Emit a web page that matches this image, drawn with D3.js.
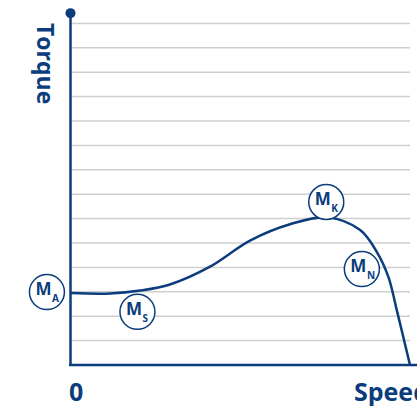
<!DOCTYPE html>
<html>
<head>
<meta charset="utf-8">
<script src="https://cdn.jsdelivr.net/npm/d3@7"></script>
<style>
  html, body { margin: 0; padding: 0; background: #fff; }
  svg { display: block; }
</style>
</head>
<body>
<svg id="chart" width="417" height="406"></svg>
<script>
// DATA: speed in % of synchronous, torque in grid units
var speed  = [0, 11.5, 20.4, 29.2, 41.0, 52.8, 64.6, 75.8, 85.3, 90.2, 93.6, 96.1, 100];
var torque = [2.95, 2.93, 3.05, 3.30, 4.03, 5.10, 5.77, 6.05, 5.53, 4.64, 3.62, 2.25, 0];
var gridValues = [1, 2, 3, 4, 5, 6, 7, 8, 9, 10, 11, 12, 13, 14];
var labelNames = ["A", "S", "K", "N"];
var labelSpeed = [-7.1, 19.6, 75.3, 85.8];
var labelTorque = [2.99, 2.18, 6.68, 3.93];

var BLUE = "#0b3d7c";
var FONT = "'Open Sans', sans-serif";
var svg = d3.select("#chart");

// SCALES
var x = d3.scaleLinear().domain([0, 100]).range([71, 410]);
var y = d3.scaleLinear().domain([0, 14]).range([365, 23.4]);

// GRID LINES
svg.append("g").selectAll("line.grid")
    .data(gridValues)
    .enter().append("line")
    .attr("x1", x(0)).attr("x2", x(100))
    .attr("y1", function(d) { return y(d); })
    .attr("y2", function(d) { return y(d); })
    .style("stroke", "#cfcfcf")
    .style("stroke-width", 1.5);

// AXES
svg.append("line")
    .attr("x1", 70.5).attr("x2", 70.5)
    .attr("y1", y(14.42)).attr("y2", y(0) + 1)
    .style("stroke", BLUE).style("stroke-width", 2.5);
svg.append("line")
    .attr("x1", 69).attr("x2", 417)
    .attr("y1", y(0)).attr("y2", y(0))
    .style("stroke", BLUE).style("stroke-width", 2.5);
svg.append("circle")
    .attr("cx", 70.5).attr("cy", y(14.42)).attr("r", 5)
    .style("fill", BLUE);

// TORQUE CURVE
var pts = speed.map(function(s, i) { return [s, torque[i]]; });
var line = d3.line()
    .x(function(d) { return x(d[0]); })
    .y(function(d) { return y(d[1]); })
    .curve(d3.curveCatmullRom.alpha(0.5));
svg.append("path")
    .datum(pts)
    .attr("d", line)
    .style("fill", "none")
    .style("stroke", BLUE)
    .style("stroke-width", 2.5);

// CIRCLE LABELS
var lab = svg.append("g").selectAll("g.lab")
    .data(labelNames)
    .enter().append("g")
    .attr("transform", function(d, i) {
        return "translate(" + x(labelSpeed[i]) + "," + y(labelTorque[i]) + ")";
    });
lab.append("circle")
    .attr("r", 17.5)
    .style("fill", "#fff")
    .style("stroke", BLUE)
    .style("stroke-width", 1.5);
var t = lab.append("text")
    .attr("x", -11.5).attr("y", 3.2)
    .style("font-family", FONT)
    .style("font-weight", 700)
    .style("fill", BLUE);
t.append("tspan").style("font-size", "17px").text("M");
t.append("tspan").attr("dy", 7).attr("dx", 0.5).style("font-size", "10px").text(function(d) { return d; });

// AXIS TITLES
svg.append("text")
    .attr("transform", "translate(36.5,23) rotate(90)")
    .style("font-family", FONT)
    .style("font-weight", 700)
    .style("font-size", "23px")
    .style("fill", BLUE)
    .text("Torque");
svg.append("text")
    .attr("x", 69).attr("y", 401)
    .style("font-family", FONT)
    .style("font-weight", 700)
    .style("font-size", "25px")
    .style("fill", BLUE)
    .text("0");
svg.append("text")
    .attr("x", 354).attr("y", 401)
    .style("font-family", FONT)
    .style("font-weight", 700)
    .style("font-size", "25px")
    .style("fill", BLUE)
    .text("Speed");
</script>
</body>
</html>
